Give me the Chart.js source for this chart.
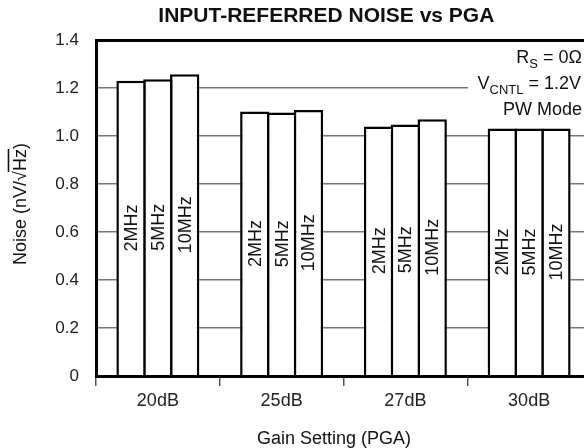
<!DOCTYPE html>
<html>
<head>
<meta charset="utf-8">
<script src="https://cdn.jsdelivr.net/npm/chart.js@4/dist/chart.umd.min.js"></script>
<style>
body { margin: 0; overflow: hidden; background: #fff; }
</style>
</head>
<body>
<canvas id="noiseChart" width="600" height="448"></canvas>
<script>
const gains = ["20dB", "25dB", "27dB", "30dB"];
const freqs = ["2MHz", "5MHz", "10MHz"];
const noise2MHz = [1.230, 1.102, 1.040, 1.031];
const noise5MHz = [1.236, 1.098, 1.048, 1.031];
const noise10MHz = [1.257, 1.108, 1.070, 1.031];
const yTicks = [0, 0.2, 0.4, 0.6, 0.8, 1.0, 1.2, 1.4];

const FONT = "'Liberation Sans', Arial, sans-serif";

function makeSet(name, values) {
    return {
        label: name,
        data: values,
        backgroundColor: "#ffffff",
        borderColor: "#000000",
        borderWidth: 2.5,
        borderSkipped: "bottom",
        categoryPercentage: 0.6505,
        barPercentage: 1.093
    };
}

// bar labels, rotated, centred in each bar
const barLabels = {
    id: "barLabels",
    afterDatasetsDraw(chart) {
        const ctx = chart.ctx;
        ctx.save();
        ctx.font = "18px " + FONT;
        ctx.fillStyle = "#111";
        ctx.textAlign = "center";
        ctx.textBaseline = "middle";
        chart.data.datasets.forEach(function (ds, i) {
            chart.getDatasetMeta(i).data.forEach(function (bar) {
                ctx.save();
                ctx.translate(bar.x, (bar.y + bar.base) / 2);
                ctx.rotate(-Math.PI / 2);
                ctx.fillText(ds.label, 0, 1);
                ctx.restore();
            });
        });
        ctx.restore();
    }
};

function drawParts(ctx, parts, right, baseline) {
    var total = 0;
    parts.forEach(function (p) {
        ctx.font = (p.sub ? "13px " : "18px ") + FONT;
        p.w = ctx.measureText(p.t).width;
        total += p.w;
    });
    var x = right - total;
    parts.forEach(function (p) {
        ctx.font = (p.sub ? "13px " : "18px ") + FONT;
        ctx.fillText(p.t, x, baseline + (p.sub ? 5 : 0));
        x += p.w;
    });
}

const extraText = {
    id: "extraText",
    afterDraw(chart) {
        const ctx = chart.ctx;
        ctx.save();
        // conditions box
        ctx.fillStyle = "#fff";
        ctx.fillRect(468, 45, 140, 77);
        ctx.fillStyle = "#111";
        ctx.textAlign = "left";
        ctx.textBaseline = "alphabetic";
        drawParts(ctx, [{t: "R"}, {t: "S", sub: true}, {t: " = 0\u03A9"}], 582, 63);
        drawParts(ctx, [{t: "V"}, {t: "CNTL", sub: true}, {t: " = 1.2V"}], 581, 89);
        drawParts(ctx, [{t: "PW Mode"}], 582, 115);

        // x axis title
        ctx.font = "18px " + FONT;
        ctx.textAlign = "center";
        ctx.fillText("Gain Setting (PGA)", 334, 444);

        // y axis title with overline on Hz
        const a = "Noise (nV/\u221A", b = "Hz", c = ")";
        const wa = ctx.measureText(a).width;
        const wb = ctx.measureText(b).width;
        const wc = ctx.measureText(c).width;
        const total = wa + wb + wc;
        ctx.translate(26, 204);
        ctx.rotate(-Math.PI / 2);
        ctx.textAlign = "left";
        ctx.fillText(a, -total / 2, 0);
        ctx.fillText(b, -total / 2 + wa, 0);
        ctx.fillText(c, -total / 2 + wa + wb, 0);
        ctx.strokeStyle = "#111";
        ctx.lineWidth = 1.6;
        ctx.beginPath();
        ctx.moveTo(-total / 2 + wa - 1, -17.5);
        ctx.lineTo(-total / 2 + wa + wb, -17.5);
        ctx.stroke();
        ctx.restore();
    }
};

const noiseChart = new Chart("noiseChart", {
    type: "bar",
    data: {
        labels: gains,
        datasets: [
            makeSet(freqs[0], noise2MHz),
            makeSet(freqs[1], noise5MHz),
            makeSet(freqs[2], noise10MHz)
        ]
    },
    options: {
        responsive: false,
        animation: false,
        events: [],
        layout: { padding: { left: 50, right: 9, top: 0, bottom: 0 } },
        plugins: {
            legend: { display: false },
            tooltip: { enabled: false },
            title: {
                display: true,
                text: "  INPUT-REFERRED NOISE vs PGA",
                color: "#111",
                font: { family: FONT, size: 21, weight: "bold" },
                padding: { top: 3.4, bottom: 11.4 }
            }
        },
        scales: {
            x: {
                grid: {
                    drawOnChartArea: false,
                    drawTicks: true,
                    tickLength: 10,
                    color: "#555",
                    lineWidth: 1.5
                },
                border: { display: true, color: "#000", width: 3, z: 1 },
                ticks: {
                    color: "#222",
                    padding: 4,
                    font: { family: FONT, size: 18 }
                },
                afterFit: function (scale) { scale.height = 72; }
            },
            y: {
                min: 0,
                max: 1.4,
                afterBuildTicks: function (scale) {
                    scale.ticks = yTicks.map(function (v) { return { value: v }; });
                },
                grid: {
                    drawTicks: false,
                    color: function (c) {
                        if (c.tick.value === 0) return "rgba(0,0,0,0)";
                        if (Math.abs(c.tick.value - 1.4) < 1e-6) return "#000";
                        return "#777";
                    },
                    lineWidth: function (c) {
                        return Math.abs(c.tick.value - 1.4) < 1e-6 ? 3 : 1.5;
                    }
                },
                border: { display: true, color: "#000", width: 3, z: 1 },
                ticks: {
                    color: "#222",
                    padding: 17,
                    font: { family: FONT, size: 17 },
                    callback: function (v) { return v === 0 ? "0" : v.toFixed(1); }
                },
                afterFit: function (scale) { scale.width = 46; }
            }
        }
    },
    plugins: [barLabels, extraText]
});
</script>
</body>
</html>
